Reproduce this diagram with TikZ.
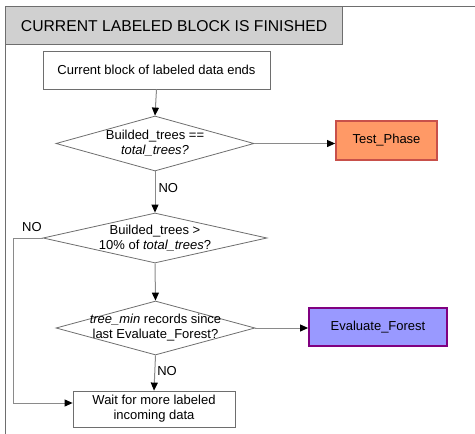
\documentclass[tikz,border=0pt]{standalone}
\usepackage{fontspec}
\setmainfont{Liberation Sans}
\usetikzlibrary{shapes.geometric,arrows.meta}
\definecolor{linegray}{HTML}{6E6E6E}
\definecolor{wiregray}{HTML}{8A8A8A}
\definecolor{titlegray}{HTML}{D0D0D0}
\definecolor{testfill}{HTML}{FF9966}
\definecolor{testedge}{HTML}{C8504A}
\definecolor{evalfill}{HTML}{9999FF}
\definecolor{evaledge}{HTML}{800080}
\tikzset{
  procbox/.style={draw=linegray, line width=0.8pt, fill=white, align=center,
    font=\fontsize{13}{15}\selectfont, inner sep=0pt},
  decision/.style={draw=linegray, line width=0.8pt, shape=diamond, inner sep=0pt},
  dectext/.style={align=center, font=\fontsize{13}{15}\selectfont, inner sep=0pt},
  flow/.style={draw=wiregray, line width=1pt, -{Triangle[length=8pt,width=7pt,fill=black,color=black]}},
  nolabel/.style={font=\fontsize{13}{15}\selectfont, inner sep=0pt},
}
\begin{document}
\begin{tikzpicture}[x=1pt,y=-1pt]
\useasboundingbox (0,0) rectangle (475,434);
% outer frame (open on the right and bottom)
\draw[linegray, line width=1pt] (475,6) -- (5,6) -- (5,434);
% title bar
\node[draw=linegray, line width=1.2pt, fill=titlegray, minimum width=337pt, minimum height=38pt,
  inner sep=0pt, anchor=north west, font=\fontsize{15.7}{18}\selectfont] (title) at (5,6)
  {CURRENT LABELED BLOCK IS FINISHED};
% process steps
\node[procbox, minimum width=227pt, minimum height=38pt] (start) at (156.5,70)
  {Current block of labeled data ends};
\node[decision, minimum width=198pt, minimum height=55pt] (d1) at (155,143.5) {};
\node[dectext] at (d1.center) {Builded\_trees ==\\\textit{total\_trees?}};
\node[draw=testedge, line width=1.8pt, fill=testfill, minimum width=101pt, minimum height=39pt,
  inner sep=0pt, font=\fontsize{13}{15}\selectfont] (test) at (386.5,140.5) {Test\_Phase};
\node[decision, minimum width=224pt, minimum height=50pt] (d2) at (155,238) {};
\node[dectext] at (d2.center) {Builded\_trees >\\10\% of \textit{total\_trees}?};
\node[decision, minimum width=199pt, minimum height=54pt] (d3) at (155.5,328) {};
\node[dectext] at (d3.center) {\textit{tree\_min} records since\\last Evaluate\_Forest?};
\node[draw=evaledge, line width=1.8pt, fill=evalfill, minimum width=138pt, minimum height=38pt,
  inner sep=0pt, font=\fontsize{13}{15}\selectfont] (eval) at (378,327) {Evaluate\_Forest};
\node[procbox, minimum width=162pt, minimum height=36pt]
  (wait) at (154,409) {Wait for more labeled\\incoming data};
% connectors
\coordinate (bend1) at (13,238);
\coordinate (bend2) at (13,403);
\draw[flow] (start.south) -- (d1.north);
\draw[flow] (d1.east) -- (test.west |- d1.east);
\draw[flow] (d1.south) -- node[nolabel, right=3pt, pos=0.4] {NO} (d2.north);
\draw[flow] (d2.south) -- (d3.north);
\draw[flow] (d2.west) -- (bend1) -- (bend2) -- (wait.west |- bend2);
\node[nolabel] at (32,227) {NO};
\draw[flow] (d3.east) -- (eval.west |- d3.east);
\draw[flow] (d3.south) -- node[nolabel, right=2pt, pos=0.45] {NO} (wait.north);
\end{tikzpicture}
\end{document}
